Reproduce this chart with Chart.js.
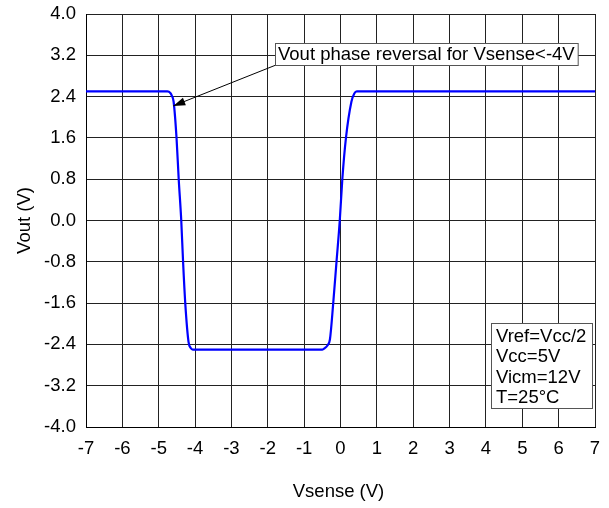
<!DOCTYPE html>
<html>
<head>
<meta charset="utf-8">
<script src="https://cdn.jsdelivr.net/npm/chart.js@4/dist/chart.umd.min.js"></script>
<style>
  html, body { margin: 0; padding: 0; background: #fff; }
  #wrap { width: 609px; height: 508px; position: relative; }
</style>
</head>
<body>
<div id="wrap"><canvas id="chart" width="609" height="508"></canvas></div>
<script>
// curve
const vsense = [-7, -4.76, -4.68, -4.64, -4.59, -4.51, -4.45, -4.38, -4.33, -4.27, -4.18, -4.12, -4.06, -0.5, -0.43, -0.36, -0.29, -0.20, -0.11, -0.02, 0.05, 0.15, 0.30, 0.38, 0.45, 7];
const vout = [2.5, 2.5, 2.47, 2.42, 2.3, 1.6, 0.8, 0.0, -0.8, -1.6, -2.35, -2.47, -2.5, -2.5, -2.47, -2.42, -2.3, -1.6, -0.8, 0.0, 0.8, 1.6, 2.3, 2.46, 2.5, 2.5];
const xTicks = [-7, -6, -5, -4, -3, -2, -1, 0, 1, 2, 3, 4, 5, 6, 7];
const yTicks = [-4.0, -3.2, -2.4, -1.6, -0.8, 0.0, 0.8, 1.6, 2.4, 3.2, 4.0];
const noteText = 'Vout phase reversal for Vsense<-4V';
const noteTip = { x: -4.6, y: 2.22 };
const conditions = ['Vref=Vcc/2', 'Vcc=5V', 'Vicm=12V', 'T=25°C'];

const FONT = 'Arial, "Liberation Sans", sans-serif';
const FS = 18.5;

const overlay = {
    id: 'overlay',
    afterDraw(chart) {
        const { ctx, chartArea: a, scales: { x, y } } = chart;
        ctx.save();
        ctx.font = FS + 'px ' + FONT;
        ctx.fillStyle = '#000';

        // axis titles
        ctx.textAlign = 'center';
        ctx.textBaseline = 'middle';
        ctx.fillText('Vsense (V)', (a.left + a.right) / 2 - 2, 492);
        ctx.save();
        ctx.translate(25, (a.top + a.bottom) / 2);
        ctx.rotate(-Math.PI / 2);
        ctx.fillText('Vout (V)', 0, 0);
        ctx.restore();

        // annotation box + arrow
        const bx = 275, by = 43, bh = 22;
        const bw = ctx.measureText(noteText).width + 6;
        const tx = x.getPixelForValue(noteTip.x), ty = y.getPixelForValue(noteTip.y);
        ctx.strokeStyle = '#000';
        ctx.lineWidth = 1;
        ctx.beginPath();
        ctx.moveTo(bx + 1, by + bh);
        ctx.lineTo(tx, ty);
        ctx.stroke();
        const ang = Math.atan2(ty - (by + bh), tx - (bx + 1));
        ctx.beginPath();
        ctx.moveTo(tx, ty);
        ctx.lineTo(tx - 12 * Math.cos(ang) + 4 * Math.sin(ang), ty - 12 * Math.sin(ang) - 4 * Math.cos(ang));
        ctx.lineTo(tx - 12 * Math.cos(ang) - 4 * Math.sin(ang), ty - 12 * Math.sin(ang) + 4 * Math.cos(ang));
        ctx.closePath();
        ctx.fill();
        ctx.fillStyle = '#fff';
        ctx.fillRect(bx + 0.5, by + 0.5, bw, bh);
        ctx.strokeStyle = '#555';
        ctx.strokeRect(bx + 0.5, by + 0.5, bw, bh);
        ctx.fillStyle = '#000';
        ctx.textAlign = 'left';
        ctx.fillText(noteText, bx + 3, by + bh / 2 + 1);

        // conditions box
        const lx = 491, ly = 323, lw = 101, lh = 85;
        ctx.fillStyle = '#fff';
        ctx.fillRect(lx + 0.5, ly + 0.5, lw, lh);
        ctx.strokeStyle = '#555';
        ctx.strokeRect(lx + 0.5, ly + 0.5, lw, lh);
        ctx.fillStyle = '#000';
        conditions.forEach((s, i) => ctx.fillText(s, lx + 5, ly + 14 + i * 20.3));
        ctx.restore();
    }
};

new Chart(document.getElementById('chart'), {
    type: 'line',
    data: {
        datasets: [{
            data: vsense.map((v, i) => ({ x: v, y: vout[i] })),
            borderColor: '#0000ff',
            borderWidth: 2.2,
            pointRadius: 0,
            cubicInterpolationMode: 'monotone',
            fill: false
        }]
    },
    options: {
        responsive: false,
        animation: false,
        devicePixelRatio: 1,
        layout: { padding: { left: 0, right: 14, top: 14, bottom: 0 } },
        plugins: { legend: { display: false }, tooltip: { enabled: false } },
        scales: {
            x: {
                type: 'linear',
                min: -7, max: 7,
                afterBuildTicks: s => { s.ticks = xTicks.map(v => ({ value: v })); },
                afterFit: s => { s.height = 81; s.paddingLeft = 0; s.paddingRight = 0; },
                grid: { color: '#222', lineWidth: 1, drawTicks: false },
                border: { color: '#000', width: 1 },
                ticks: { color: '#000', padding: 11, maxRotation: 0, font: { family: FONT, size: FS }, callback: v => String(v) }
            },
            y: {
                type: 'linear',
                min: -4, max: 4,
                afterBuildTicks: s => { s.ticks = yTicks.map(v => ({ value: v })); },
                afterFit: s => { s.width = 86; s.paddingTop = 0; s.paddingBottom = 0; },
                grid: { color: '#222', lineWidth: 1, drawTicks: false },
                border: { color: '#000', width: 1 },
                ticks: { color: '#000', padding: 10, font: { family: FONT, size: FS }, callback: v => v.toFixed(1) }
            }
        }
    },
    plugins: [overlay]
});
</script>
</body>
</html>
